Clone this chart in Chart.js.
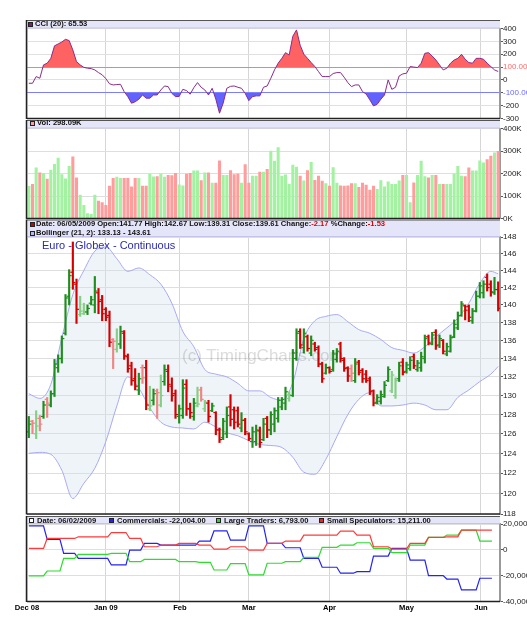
<!DOCTYPE html>
<html>
<head>
<meta charset="utf-8">
<script src="https://cdn.jsdelivr.net/npm/chart.js@4.4.1/dist/chart.umd.min.js"></script>
<style>
body { margin:0; background:#fff; }
#wrap { position:relative; width:527px; height:625px; overflow:hidden; font-family:"Liberation Sans", Arial, sans-serif; background:#fff; }
canvas { position:absolute; left:0; top:0; z-index:1; }
.hd { position:absolute; z-index:2; font-size:7.6px; font-weight:bold; color:#111; white-space:pre; line-height:8px; }
.sq { position:absolute; z-index:2; width:3px; height:3px; border:1px solid #222; }
.neg { color:#e00000; }
#title { position:absolute; z-index:2; left:42px; top:238.5px; font-size:11px; line-height:12px; color:#2b2bb0; white-space:pre; }
#wm { position:absolute; z-index:3; left:182px; top:347px; font-size:17px; line-height:18px; color:#dcdcdc; white-space:pre; mix-blend-mode:multiply; }
</style>
</head>
<body>
<div id="wrap">
  <canvas id="cci" width="527" height="625"></canvas>
  <canvas id="vol" width="527" height="625"></canvas>
  <canvas id="price" width="527" height="625"></canvas>
  <canvas id="cot" width="527" height="625"></canvas>
  <div id="wm">(c) TimingCharts.com</div>

  <div class="sq" style="left:28px;top:22px;background:#7a1f7a"></div>
  <div class="hd" style="left:35px;top:20.4px">CCI (20): 65.53</div>

  <div class="sq" style="left:30px;top:121px;background:#ff9f9f"></div>
  <div class="hd" style="left:37px;top:119.2px">Vol: 298.09K</div>

  <div class="sq" style="left:30px;top:221.5px;background:#cc0000"></div>
  <div class="hd" style="left:36px;top:219.7px">Date: 06/05/2009 Open:141.77 High:142.67 Low:139.31 Close:139.61 Change:<span class="neg">-2.17</span> %Change:<span class="neg">-1.53</span></div>
  <div class="sq" style="left:30px;top:230.5px;background:#b8b8f0"></div>
  <div class="hd" style="left:36px;top:229.1px">Bollinger (21, 2): 133.13 - 143.61</div>
  <div id="title">Euro - Globex - Continuous</div>

  <div class="sq" style="left:29px;top:518px;background:#fff"></div>
  <div class="hd" style="left:37px;top:516.7px">Date: 06/02/2009</div>
  <div class="sq" style="left:109px;top:518px;background:#2222ee"></div>
  <div class="hd" style="left:117px;top:516.7px">Commercials: -22,004.00</div>
  <div class="sq" style="left:216px;top:518px;background:#22dd22"></div>
  <div class="hd" style="left:224px;top:516.7px">Large Traders: 6,793.00</div>
  <div class="sq" style="left:319px;top:518px;background:#ee2222"></div>
  <div class="hd" style="left:327px;top:516.7px">Small Speculators: 15,211.00</div>
</div>
<script>
const FONT = '"Liberation Sans", Arial, sans-serif';
const W = 527, H = 625;

// trading days Dec 1 2008 .. Jun 5 2009, x = bar index
const N = 129;
const monthPos = [-0.5, 21, 41.2, 60, 82, 103, 123.3];
const monthLabels = ['Dec 08', 'Jan 09', 'Feb', 'Mar', 'Apr', 'May', 'Jun'];

const opens = [126.2,127.3,126.0,127.6,127.8,129.6,129.0,130.2,133.0,134.0,136.8,141.0,143.8,142.4,138.9,139.0,139.2,140.2,140.0,141.4,
  140.6,139.5,138.8,136.1,135.0,135.6,136.8,134.2,133.2,131.8,130.6,133.0,133.0,128.6,129.5,130.5,129.0,131.5,132.6,131.0,
  130.2,127.8,127.9,131.2,128.6,127.8,128.9,130.6,128.6,129.2,128.4,128.2,126.4,125.6,126.0,128.8,128.5,128.4,126.6,127.4,
  126.0,125.2,125.2,126.3,125.4,127.6,126.4,127.0,127.6,128.8,129.2,129.7,130.0,134.0,137.0,135.2,136.4,134.6,135.6,135.2,
  133.4,132.4,133.0,132.8,133.9,135.6,133.8,133.0,132.9,131.6,133.6,132.7,132.3,131.8,130.5,129.3,129.4,129.9,131.6,130.5,
  130.0,131.8,133.6,132.6,132.9,134.2,132.8,133.0,134.0,136.4,135.6,136.9,135.5,136.0,134.5,134.8,136.4,137.4,138.8,139.9,
  139.8,138.2,139.3,141.0,141.4,143.2,142.4,141.4,141.77];
const highs = [127.8,127.4,128.4,127.9,129.4,129.8,130.5,133.9,134.4,136.5,141.2,144.1,147.4,143.0,141.0,140.2,140.0,141.0,143.3,141.9,
  141.1,139.7,139.3,136.2,137.3,137.6,137.1,134.5,133.6,132.9,132.4,133.3,133.8,131.0,130.7,130.7,132.2,133.3,133.3,131.9,
  130.6,129.0,131.7,131.7,129.2,129.7,130.9,130.9,129.5,129.5,129.2,128.3,126.6,127.6,128.8,130.1,128.8,128.8,128.2,127.6,
  126.1,126.7,126.9,126.7,127.6,127.8,128.3,128.7,129.8,129.8,130.9,130.4,135.0,137.3,137.3,137.3,136.6,136.5,135.8,135.4,
  133.6,133.4,133.1,134.9,135.1,135.8,134.1,133.1,133.3,134.0,133.8,132.9,132.7,132.0,130.6,130.1,130.5,131.5,133.1,132.6,
  131.9,133.6,134.0,133.6,134.2,134.5,133.8,134.7,136.6,136.6,136.9,137.2,136.6,136.1,135.7,136.6,138.3,139.2,140.4,140.0,
  140.0,139.6,141.6,142.6,142.8,143.6,142.8,143.2,142.67];
const lows = [125.6,126.0,125.5,126.3,127.6,127.7,128.8,129.9,132.5,133.5,136.6,140.0,141.8,137.9,138.7,138.9,138.9,140.0,139.1,139.0,
  138.2,138.2,135.3,132.9,134.7,135.1,133.9,132.5,131.1,130.6,130.1,131.3,128.5,128.4,129.0,127.6,128.8,131.1,130.4,129.4,
  127.6,127.1,127.6,127.9,127.6,127.4,128.8,129.4,128.3,127.2,128.3,125.9,125.1,125.4,125.6,126.8,126.5,126.7,126.2,125.9,
  125.3,124.6,124.8,124.6,125.3,125.6,125.9,126.2,127.2,128.5,128.5,129.4,129.9,133.8,135.1,134.6,134.8,134.3,134.8,133.1,
  131.4,132.3,132.4,132.6,133.6,133.6,132.6,131.5,131.5,131.4,132.2,131.4,131.4,130.1,128.9,129.1,129.1,129.8,131.5,130.3,
  129.7,131.5,132.2,132.4,132.7,132.9,132.6,132.6,133.5,135.5,135.5,135.0,135.2,134.5,134.3,134.7,136.3,137.2,138.7,138.3,
  138.1,137.9,139.2,140.8,140.8,141.6,141.0,141.2,139.31];
const closes = [127.0,127.1,126.8,127.0,129.0,129.2,130.2,133.4,134.0,136.2,140.8,143.4,142.6,139.5,139.3,139.2,139.6,140.6,141.6,140.4,
  139.0,138.6,135.8,135.9,135.6,137.0,134.3,132.9,131.6,131.0,131.8,131.9,129.0,128.9,130.2,130.3,130.0,132.8,131.2,130.0,
  128.0,128.6,130.8,128.6,128.2,129.2,129.1,129.6,129.3,127.8,128.9,126.4,125.4,127.3,127.9,127.5,127.2,127.0,127.4,126.2,
  125.5,126.2,126.4,125.1,127.0,126.4,128.0,128.4,129.5,129.6,130.4,130.1,134.6,136.8,135.5,136.8,135.1,136.0,135.0,133.4,
  131.8,133.0,132.6,134.5,134.8,134.0,132.9,132.1,132.4,133.4,132.5,131.8,131.6,130.4,129.2,129.8,130.1,131.1,132.8,132.2,
  131.6,133.2,132.5,133.3,133.8,133.2,133.5,134.2,136.2,135.7,136.6,135.4,136.2,134.8,135.3,136.3,137.8,138.8,140.1,139.4,
  138.6,139.3,141.0,142.2,142.4,142.0,141.5,141.78,139.61];

// volume in thousands
const volume = [143,152,225,203,200,175,215,241,269,195,176,232,274,181,104,59,22,19,104,77,
  71,59,144,178,184,179,179,178,141,179,179,144,144,197,185,186,197,184,192,191,
  201,150,145,197,201,212,212,169,203,203,157,157,256,192,192,213,195,197,157,240,
  157,188,188,206,206,219,300,255,315,188,194,152,237,229,188,167,213,250,170,188,
  166,155,144,226,157,145,144,145,155,155,138,157,148,126,144,130,169,141,163,152,
  152,167,192,192,71,158,192,255,186,181,192,192,152,152,152,152,197,232,188,186,
  225,212,212,256,247,262,277,292,298.09];

const cci = [-26,-26,26,13,117,130,168,265,280,295,316,306,233,142,117,98,91,88,78,57,
  40,10,-30,-39,-36,-34,-91,-130,-181,-170,-150,-117,-142,-142,-117,-117,-78,-47,-52,-104,
  -130,-128,-73,-83,-111,-60,-21,-57,-78,-117,-65,-150,-259,-181,-65,-50,-47,-57,-65,-104,
  -161,-130,-124,-124,-57,-47,13,78,130,168,212,194,340,389,270,200,168,135,104,65,
  26,26,26,50,57,57,21,-21,-52,-39,-39,-91,-110,-155,-202,-190,-150,-117,0,-73,
  -57,31,47,52,104,100,96,130,207,212,186,155,117,78,91,130,155,168,199,161,
  135,130,168,168,161,130,104,78,65.53];
const cciTicks = [400, 300, 200, 100, 0, -100, -200, -300];

// Bollinger (21, 2) read at every third bar
const bandIdx = [0,3,6,9,12,15,18,21,24,27,30,33,36,39,42,45,48,51,54,57,60,63,66,69,72,75,78,81,84,87,90,93,96,99,102,105,108,111,114,117,120,123,126,128];
const bandUpper = [130.2,129.7,131.2,136.3,141.2,144.0,146.3,146.8,145.4,143.9,144.3,143.5,142.4,140.2,137.0,135.3,132.8,132.3,132.0,131.3,
  130.5,130.5,129.8,129.5,131.4,136.2,138.2,138.7,138.9,138.1,137.2,136.8,136.1,135.2,134.9,134.6,135.3,136.4,137.4,138.5,
  140.2,142.5,143.9,143.61];
const bandLower = [124.0,124.1,123.9,122.3,119.5,121.0,122.5,125.2,128.9,132.0,130.8,128.7,127.2,126.7,126.6,126.5,127.2,126.7,126.1,125.8,
  125.3,124.9,124.8,124.6,123.6,122.1,121.9,123.4,125.7,128.0,129.6,130.3,128.9,128.9,129.0,129.2,129.0,128.5,128.5,129.8,
  130.6,131.5,132.3,133.13];
const priceTicks = [148,146,144,142,140,138,136,134,132,130,128,126,124,122,120,118];

const volTicks = [0, 100, 200, 300, 400];

// COT weekly reports (bar index where each report starts)
const cotWeeks = [0,5,9.5,13.5,18,22.5,27.5,31.5,36,41,46.5,50.5,55,60,65,70,75,80,85,89.5,94,99,104,109,114,118,123];
const cotEnd = 126.3;
const commercials = [18600,8000,-2700,-6600,-6600,-11700,-200,5000,3700,3700,6800,14700,7500,18600,5000,1600,-6600,-13500,-18100,-16900,
  -4800,1100,-7900,-20000,-22600,-31000,-22004];
const largeTraders = [-20200,-16400,-6600,-3500,-3500,-2700,-9200,-7400,-7400,-9200,-9700,-15600,-10700,-19400,-10400,-9200,-5800,1900,3700,5500,
  1100,-2200,3700,9600,11400,15200,6793];
const smallSpecs = [1100,8800,8800,10100,10100,13400,8800,2400,3700,5000,3700,600,2400,-200,5000,6800,11400,11400,14500,11400,
  2400,600,5000,9600,10100,15200,15211];
const cotTicks = [20000, 0, -20000, -40000];

// colours for bars
const up = closes.map((c, i) => c >= opens[i]);
const barColors = closes.map((c, i) => {
  const prev = i > 0 ? closes[i - 1] : opens[i];
  if (up[i]) return c > prev ? '#1e8e1e' : '#84cf84';
  return c < prev ? '#d40000' : '#ef8585';
});
const volColors = up.map(u => u ? '#a2f2a2' : '#ff9d9d');

function xScale(showLabels) {
  return {
    type: 'linear', min: -0.5, max: N - 0.5, offset: false,
    afterBuildTicks: s => { s.ticks = monthPos.map(v => ({ value: v })); },
    afterFit: s => { s.height = showLabels ? 14 : 0; },
    grid: { color: '#d6d6d6', lineWidth: 1, drawTicks: false, offset: false },
    border: { display: false },
    ticks: {
      display: showLabels, autoSkip: false, maxRotation: 0, padding: 2, color: '#000',
      font: { size: 7.6, weight: 'bold', family: FONT },
      callback: v => monthLabels[monthPos.indexOf(v)] || ''
    }
  };
}

function yScale(min, max, tickVals, fmt, extra) {
  const sc = {
    position: 'right', min: min, max: max,
    afterBuildTicks: s => { s.ticks = tickVals.map(v => ({ value: v })); },
    afterFit: s => { s.width = 27; },
    grid: { color: '#dedede', lineWidth: 1, tickLength: 3, tickColor: '#555' },
    border: { display: true, color: '#9a9a9a', width: 2 },
    ticks: { padding: 0, color: '#222', font: { size: 8, family: FONT }, callback: fmt }
  };
  return Object.assign(sc, extra || {});
}

function framePlugin(headerTop) {
  return {
    id: 'frame',
    beforeDraw(chart) {
      const { ctx, chartArea: a } = chart;
      ctx.save();
      ctx.fillStyle = '#e5e5f9';
      ctx.fillRect(a.left, headerTop, a.right - a.left, a.top - headerTop);
      ctx.restore();
    },
    afterDraw(chart) {
      const { ctx, chartArea: a } = chart;
      ctx.save();
      ctx.strokeStyle = '#c4c4ea'; ctx.lineWidth = 1;
      ctx.beginPath(); ctx.moveTo(a.left, a.top - 0.5); ctx.lineTo(a.right, a.top - 0.5); ctx.stroke();
      ctx.strokeStyle = '#555'; ctx.lineWidth = 1;
      ctx.beginPath(); ctx.moveTo(a.left, headerTop + 0.5); ctx.lineTo(a.right, headerTop + 0.5); ctx.stroke();
      ctx.strokeStyle = '#222'; ctx.lineWidth = 1.5;
      ctx.beginPath(); ctx.moveTo(a.left - 0.5, headerTop); ctx.lineTo(a.left - 0.5, a.bottom + 0.5); ctx.stroke();
      ctx.beginPath(); ctx.moveTo(a.left, a.bottom); ctx.lineTo(a.right, a.bottom); ctx.stroke();
      ctx.restore();
    }
  };
}

function baseOptions(plotTop, plotBottom, yOpts, showX) {
  return {
    responsive: false, animation: false, devicePixelRatio: 1, events: [],
    layout: { padding: { left: 27, right: 0, top: plotTop, bottom: H - plotBottom - (showX ? 14 : 0) } },
    plugins: { legend: { display: false }, tooltip: { enabled: false } },
    scales: { x: xScale(showX), y: yOpts }
  };
}

// CCI panel
const cciPts = cci.map((v, i) => ({ x: i, y: v }));
const cciY = yScale(-300, 400, cciTicks,
  v => v === 100 ? '100.00' : v === -100 ? '-100.00' : String(v), {
    grid: { color: c => c.tick && c.tick.value === 100 ? '#ff7a7a' : c.tick && c.tick.value === -100 ? '#8484ff' : '#e0e0e0',
            lineWidth: 1, tickLength: 3, tickColor: '#555' }
  });
cciY.ticks.color = c => c.tick && c.tick.value === 100 ? '#ff6a6a' : c.tick && c.tick.value === -100 ? '#6a6aff' : '#222';
new Chart(document.getElementById('cci'), {
  type: 'line',
  data: {
    datasets: [
      { data: cciPts, borderWidth: 0, pointRadius: 0, order: 3,
        fill: { target: { value: 100 }, above: '#ff6262', below: 'rgba(0,0,0,0)' } },
      { data: cciPts, borderWidth: 0, pointRadius: 0, order: 3,
        fill: { target: { value: -100 }, above: 'rgba(0,0,0,0)', below: '#6262ff' } },
      { data: cciPts, borderColor: '#8a2c8a', borderWidth: 1, pointRadius: 0, fill: false, order: 1 }
    ]
  },
  options: baseOptions(28.5, 118.5, cciY, false),
  plugins: [framePlugin(20)]
});

// Volume panel
new Chart(document.getElementById('vol'), {
  type: 'bar',
  data: {
    datasets: [{ data: volume.map((v, i) => ({ x: i, y: v })), backgroundColor: volColors, barThickness: 2.4 }]
  },
  options: baseOptions(128.5, 218.5, yScale(0, 400, volTicks, v => v + 'K'), false),
  plugins: [framePlugin(120)]
});

// Price panel
new Chart(document.getElementById('price'), {
  type: 'line',
  data: {
    datasets: [
      { data: bandIdx.map((x, k) => ({ x: x, y: bandUpper[k] })), borderColor: '#a7a9f3', borderWidth: 1,
        pointRadius: 0, fill: false, cubicInterpolationMode: 'monotone', order: 5 },
      { data: bandIdx.map((x, k) => ({ x: x, y: bandLower[k] })), borderColor: '#a7a9f3', borderWidth: 1,
        pointRadius: 0, fill: '-1', backgroundColor: 'rgba(214,226,240,0.38)', cubicInterpolationMode: 'monotone', order: 5 },
      { type: 'bar', data: lows.map((l, i) => ({ x: i, y: [l, highs[i]] })), backgroundColor: barColors,
        barThickness: 1.5, order: 2 },
      { data: opens.map((o, i) => ({ x: i - 0.33, y: o })), showLine: false, pointStyle: 'line', pointRadius: 1.3,
        pointBorderWidth: 1.2, pointBorderColor: barColors, pointBackgroundColor: barColors, order: 1 },
      { data: closes.map((c, i) => ({ x: i + 0.33, y: c })), showLine: false, pointStyle: 'line', pointRadius: 1.3,
        pointBorderWidth: 1.2, pointBorderColor: barColors, pointBackgroundColor: barColors, order: 1 }
    ]
  },
  options: baseOptions(237, 514, yScale(118, 148, priceTicks, v => String(v), { type: 'logarithmic' }), false),
  plugins: [framePlugin(219.5)]
});

// COT panel
function cotPoints(vals) {
  const pts = [];
  vals.forEach((v, k) => {
    const e = k + 1 < cotWeeks.length ? cotWeeks[k + 1] - 1 : cotEnd;
    pts.push({ x: cotWeeks[k], y: v }, { x: e, y: v });
  });
  return pts;
}
new Chart(document.getElementById('cot'), {
  type: 'line',
  data: {
    datasets: [
      { data: cotPoints(smallSpecs), borderColor: '#ff3a3a', borderWidth: 1.2, pointRadius: 0, fill: false },
      { data: cotPoints(largeTraders), borderColor: '#2edc2e', borderWidth: 1.2, pointRadius: 0, fill: false },
      { data: cotPoints(commercials), borderColor: '#2424f0', borderWidth: 1.2, pointRadius: 0, fill: false }
    ]
  },
  options: baseOptions(524, 601.5, yScale(-40000, 20000, cotTicks, v => v.toLocaleString('en-US')), true),
  plugins: [framePlugin(516)]
});
</script>
</body>
</html>
